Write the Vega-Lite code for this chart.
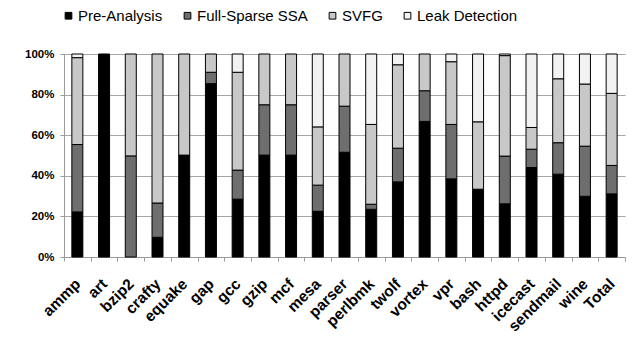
{
  "$schema": "https://vega.github.io/schema/vega-lite/v6.json",
  "width": 561,
  "height": 203,
  "autosize": {"type": "none"},
  "padding": {"left": 64, "top": 54, "right": 19, "bottom": 93},
  "background": "white",
  "data": {"values": [
    {"b":"ammp","s":"Pre-Analysis","o":1,"v":22.2},{"b":"ammp","s":"Full-Sparse SSA","o":2,"v":33.2},{"b":"ammp","s":"SVFG","o":3,"v":42.8},{"b":"ammp","s":"Leak Detection","o":4,"v":1.8},
    {"b":"art","s":"Pre-Analysis","o":1,"v":100},{"b":"art","s":"Full-Sparse SSA","o":2,"v":0},{"b":"art","s":"SVFG","o":3,"v":0},{"b":"art","s":"Leak Detection","o":4,"v":0},
    {"b":"bzip2","s":"Pre-Analysis","o":1,"v":0},{"b":"bzip2","s":"Full-Sparse SSA","o":2,"v":49.8},{"b":"bzip2","s":"SVFG","o":3,"v":50.2},{"b":"bzip2","s":"Leak Detection","o":4,"v":0},
    {"b":"crafty","s":"Pre-Analysis","o":1,"v":9.7},{"b":"crafty","s":"Full-Sparse SSA","o":2,"v":16.9},{"b":"crafty","s":"SVFG","o":3,"v":73.4},{"b":"crafty","s":"Leak Detection","o":4,"v":0},
    {"b":"equake","s":"Pre-Analysis","o":1,"v":50.2},{"b":"equake","s":"Full-Sparse SSA","o":2,"v":0},{"b":"equake","s":"SVFG","o":3,"v":49.8},{"b":"equake","s":"Leak Detection","o":4,"v":0},
    {"b":"gap","s":"Pre-Analysis","o":1,"v":85.4},{"b":"gap","s":"Full-Sparse SSA","o":2,"v":5.6},{"b":"gap","s":"SVFG","o":3,"v":9.0},{"b":"gap","s":"Leak Detection","o":4,"v":0},
    {"b":"gcc","s":"Pre-Analysis","o":1,"v":28.5},{"b":"gcc","s":"Full-Sparse SSA","o":2,"v":14.3},{"b":"gcc","s":"SVFG","o":3,"v":48.2},{"b":"gcc","s":"Leak Detection","o":4,"v":9.0},
    {"b":"gzip","s":"Pre-Analysis","o":1,"v":50.2},{"b":"gzip","s":"Full-Sparse SSA","o":2,"v":24.8},{"b":"gzip","s":"SVFG","o":3,"v":25.0},{"b":"gzip","s":"Leak Detection","o":4,"v":0},
    {"b":"mcf","s":"Pre-Analysis","o":1,"v":50.2},{"b":"mcf","s":"Full-Sparse SSA","o":2,"v":24.8},{"b":"mcf","s":"SVFG","o":3,"v":25.0},{"b":"mcf","s":"Leak Detection","o":4,"v":0},
    {"b":"mesa","s":"Pre-Analysis","o":1,"v":22.5},{"b":"mesa","s":"Full-Sparse SSA","o":2,"v":12.9},{"b":"mesa","s":"SVFG","o":3,"v":28.7},{"b":"mesa","s":"Leak Detection","o":4,"v":35.9},
    {"b":"parser","s":"Pre-Analysis","o":1,"v":51.6},{"b":"parser","s":"Full-Sparse SSA","o":2,"v":22.7},{"b":"parser","s":"SVFG","o":3,"v":25.7},{"b":"parser","s":"Leak Detection","o":4,"v":0},
    {"b":"perlbmk","s":"Pre-Analysis","o":1,"v":23.5},{"b":"perlbmk","s":"Full-Sparse SSA","o":2,"v":2.5},{"b":"perlbmk","s":"SVFG","o":3,"v":39.3},{"b":"perlbmk","s":"Leak Detection","o":4,"v":34.7},
    {"b":"twolf","s":"Pre-Analysis","o":1,"v":37.0},{"b":"twolf","s":"Full-Sparse SSA","o":2,"v":16.6},{"b":"twolf","s":"SVFG","o":3,"v":41.1},{"b":"twolf","s":"Leak Detection","o":4,"v":5.3},
    {"b":"vortex","s":"Pre-Analysis","o":1,"v":66.8},{"b":"vortex","s":"Full-Sparse SSA","o":2,"v":15.1},{"b":"vortex","s":"SVFG","o":3,"v":18.1},{"b":"vortex","s":"Leak Detection","o":4,"v":0},
    {"b":"vpr","s":"Pre-Analysis","o":1,"v":38.5},{"b":"vpr","s":"Full-Sparse SSA","o":2,"v":26.8},{"b":"vpr","s":"SVFG","o":3,"v":30.9},{"b":"vpr","s":"Leak Detection","o":4,"v":3.8},
    {"b":"bash","s":"Pre-Analysis","o":1,"v":33.4},{"b":"bash","s":"Full-Sparse SSA","o":2,"v":0},{"b":"bash","s":"SVFG","o":3,"v":33.2},{"b":"bash","s":"Leak Detection","o":4,"v":33.4},
    {"b":"httpd","s":"Pre-Analysis","o":1,"v":26.2},{"b":"httpd","s":"Full-Sparse SSA","o":2,"v":23.5},{"b":"httpd","s":"SVFG","o":3,"v":49.5},{"b":"httpd","s":"Leak Detection","o":4,"v":0.8},
    {"b":"icecast","s":"Pre-Analysis","o":1,"v":44.1},{"b":"icecast","s":"Full-Sparse SSA","o":2,"v":9.0},{"b":"icecast","s":"SVFG","o":3,"v":10.7},{"b":"icecast","s":"Leak Detection","o":4,"v":36.2},
    {"b":"sendmail","s":"Pre-Analysis","o":1,"v":40.8},{"b":"sendmail","s":"Full-Sparse SSA","o":2,"v":15.5},{"b":"sendmail","s":"SVFG","o":3,"v":31.5},{"b":"sendmail","s":"Leak Detection","o":4,"v":12.2},
    {"b":"wine","s":"Pre-Analysis","o":1,"v":29.9},{"b":"wine","s":"Full-Sparse SSA","o":2,"v":24.7},{"b":"wine","s":"SVFG","o":3,"v":30.6},{"b":"wine","s":"Leak Detection","o":4,"v":14.8},
    {"b":"Total","s":"Pre-Analysis","o":1,"v":31.1},{"b":"Total","s":"Full-Sparse SSA","o":2,"v":14.0},{"b":"Total","s":"SVFG","o":3,"v":35.5},{"b":"Total","s":"Leak Detection","o":4,"v":19.4}
  ]},
  "transform": [{"filter": "datum.v > 0"}],
  "mark": {"type": "bar", "size": 11, "stroke": "black", "strokeWidth": 1},
  "encoding": {
    "x": {
      "field": "b", "type": "nominal", "sort": null, "title": null,
      "scale": {"paddingInner": 0, "paddingOuter": 0},
      "axis": {
        "labelAngle": -45, "labelAlign": "right", "labelBaseline": "middle",
        "labelFont": "Liberation Sans", "labelFontSize": 15.5, "labelFontWeight": "bold", "labelColor": "black",
        "labelPadding": 20, "tickBand": "extent", "tickSize": 4, "tickColor": "#9a9a9a",
        "domainColor": "#9a9a9a", "grid": false
      }
    },
    "y": {
      "field": "v", "type": "quantitative", "stack": "normalize", "title": null,
      "scale": {"domain": [0, 1]},
      "axis": {
        "values": [0, 0.2, 0.4, 0.6, 0.8, 1], "format": ".0%",
        "labelFont": "Liberation Sans", "labelFontSize": 11.5, "labelFontWeight": "bold", "labelColor": "black",
        "labelPadding": 6, "tickSize": 4, "tickColor": "#9a9a9a", "domainColor": "#9a9a9a",
        "grid": true, "gridColor": "#a6a6a6", "gridWidth": 1
      }
    },
    "color": {
      "field": "s", "type": "nominal", "title": null,
      "scale": {
        "domain": ["Pre-Analysis", "Full-Sparse SSA", "SVFG", "Leak Detection"],
        "range": ["#000000", "#6e6e6e", "#c8c8c8", "#f2f2f2"]
      },
      "legend": {
        "orient": "none", "direction": "horizontal", "legendX": -3, "legendY": -46,
        "symbolType": "square", "symbolSize": 45, "symbolStrokeColor": "black", "symbolStrokeWidth": 1,
        "labelFont": "Liberation Sans", "labelFontSize": 15, "labelColor": "black",
        "labelOffset": 2, "columnPadding": 17
      }
    },
    "order": {"field": "o", "type": "quantitative"}
  },
  "config": {"view": {"stroke": null}}
}
